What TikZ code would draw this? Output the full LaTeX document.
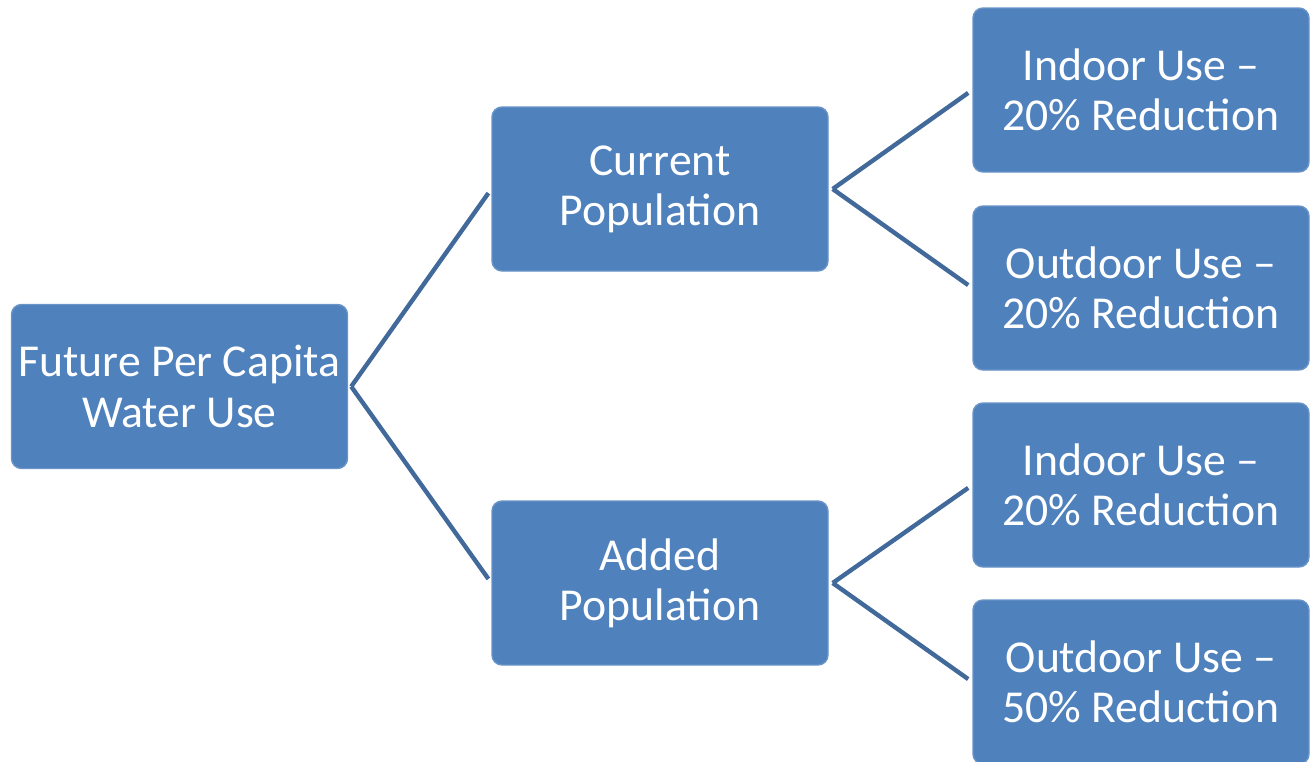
\documentclass[tikz,border=0pt]{standalone}
\usepackage{fontspec}
\setmainfont{Carlito}
\usetikzlibrary{positioning}

\definecolor{boxblue}{HTML}{4F81BD}
\definecolor{lineblue}{HTML}{41699A}

\tikzset{
    box/.style={fill=boxblue, draw=boxblue!85!white, line width=0.4pt, rounded corners=0.1cm,
        minimum width=3.36cm, minimum height=1.64cm, align=center, text=white,
        font=\fontsize{13}{14.3}\selectfont, inner sep=0pt},
    link/.style={draw=lineblue, line width=1.25pt, shorten >=0.05cm}
}

\begin{document}
\begin{tikzpicture}
            \useasboundingbox (0, 0) rectangle (13.1, 7.61);
            \node[box] (root) at (1.795, 3.745) {Future Per Capita\\Water Use};
            \node[box] (cur) at (6.6, 5.72) {Current\\Population};
            \node[box] (add) at (6.6, 1.78) {Added\\Population};
            \node[box] (curin) at (11.41, 6.71) {Indoor Use --\\20\% Reduction};
            \node[box] (curout) at (11.41, 4.73) {Outdoor Use --\\20\% Reduction};
            \node[box] (addin) at (11.41, 2.76) {Indoor Use --\\20\% Reduction};
            \node[box] (addout) at (11.41, 0.79) {Outdoor Use --\\50\% Reduction};
            % branch points just right of each parent box
            \coordinate[right=0.03 of root.east] (jroot);
            \coordinate[right=0.04 of cur.east] (jcur);
            \coordinate[right=0.04 of add.east] (jadd);
            \draw[link] (jroot) -- (cur.west);
            \draw[link] (jroot) -- (add.west);
            \draw[link] (jcur) -- (curin.west);
            \draw[link] (jcur) -- (curout.west);
            \draw[link] (jadd) -- (addin.west);
            \draw[link] (jadd) -- (addout.west);
        \end{tikzpicture}
\end{document}
